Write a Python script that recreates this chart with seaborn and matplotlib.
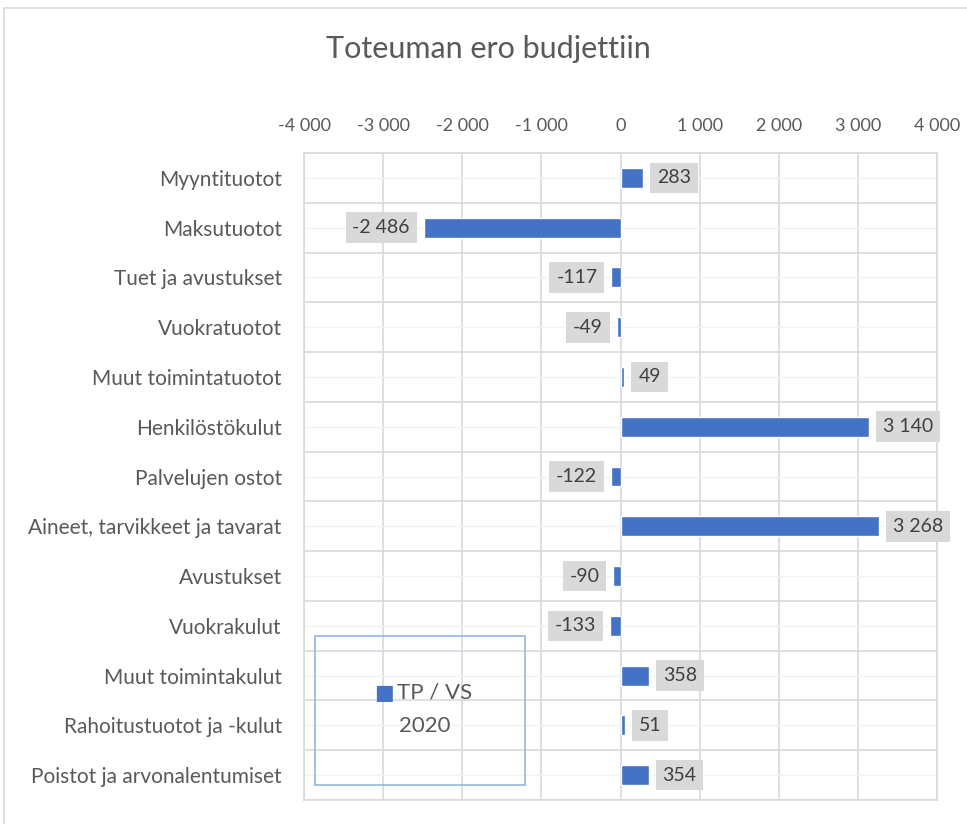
import pandas as pd
import seaborn as sns
import matplotlib.pyplot as plt
from matplotlib.patches import Rectangle

categories = ['Myyntituotot', 'Maksutuotot', 'Tuet ja avustukset', 'Vuokratuotot',
              'Muut toimintatuotot', 'Henkilöstökulut', 'Palvelujen ostot',
              'Aineet, tarvikkeet ja tavarat', 'Avustukset', 'Vuokrakulut',
              'Muut toimintakulut', 'Rahoitustuotot ja -kulut',
              'Poistot ja arvonalentumiset']
values = [283, -2486, -117, -49, 49, 3140, -122, 3268, -90, -133, 358, 51, 354]
ticks = [-4000, -3000, -2000, -1000, 0, 1000, 2000, 3000, 4000]
series_name = 'TP / VS'
series_year = '2020'

df = pd.DataFrame({'kategoria': categories, 'ero': values})

sns.set_style('white')
plt.rcParams['font.family'] = ['Lato', 'DejaVu Sans']

txt = '#595959'
blue = '#4472C4'
grid = '#D9D9D9'

fig = plt.figure(figsize=(9.67, 8.24), dpi=100)
ax = fig.add_axes([0.3144, 0.0291, 0.6546, 0.7852])

sns.barplot(data=df, y='kategoria', x='ero', orient='h', color=blue,
            width=0.4, ax=ax, saturation=1)

ax.set_xlim(-4000, 4000)
ax.set_ylim(len(categories) - 0.5, -0.5)
ax.set_xticks(ticks)
ax.set_xticklabels([f'{t:,}'.replace(',', ' ') for t in ticks])
ax.xaxis.tick_top()
ax.tick_params(axis='x', length=0, pad=14, labelsize=13, labelcolor=txt)
ax.tick_params(axis='y', length=0, pad=16, labelsize=15, labelcolor=txt)
ax.set_xlabel('')
ax.set_ylabel('')

# gridlines
for t in ticks:
    ax.axvline(t, color=grid, lw=1.2, zorder=0)
for i in range(len(categories) + 1):
    ax.axhline(i - 0.5, color=grid, lw=1.2, zorder=0)
for i in range(len(categories)):
    ax.axhline(i, color='#F2F2F2', lw=1.0, zorder=0)
for s in ax.spines.values():
    s.set_color(grid)
    s.set_linewidth(1.2)

# data labels
for i, v in enumerate(values):
    lab = f'{v:,}'.replace(',', ' ')
    off = 10 if v >= 0 else -10
    ax.annotate(lab, (v, i), xytext=(off, 0), textcoords='offset points',
                ha='left' if v >= 0 else 'right', va='center', fontsize=14,
                color='#404040',
                bbox=dict(boxstyle='square,pad=0.35', fc='#D9D9D9', ec='none'))

fig.text(0.505, 0.94, 'Toteuman ero budjettiin', ha='center', va='center',
         fontsize=22, color=txt)

# legend box
fig.patches.append(Rectangle((0.3257, 0.0473), 0.2172, 0.1809,
                             transform=fig.transFigure, fill=False,
                             ec='#8DB7E2', lw=1.2))
fig.text(0.397, 0.159, '■', ha='center', va='center', fontsize=15,
         color=blue, family=['DejaVu Sans'])
fig.text(0.411, 0.159, series_name, ha='left', va='center', fontsize=16,
         color=txt)
fig.text(0.439, 0.119, series_year, ha='center', va='center', fontsize=16,
         color=txt)

# outer chart border
fig.patches.append(Rectangle((0.004, -0.05), 1.2, 1.04,
                             transform=fig.transFigure, fill=False,
                             ec='#D9D9D9', lw=1.2))

fig.savefig('out.png', dpi=100)
